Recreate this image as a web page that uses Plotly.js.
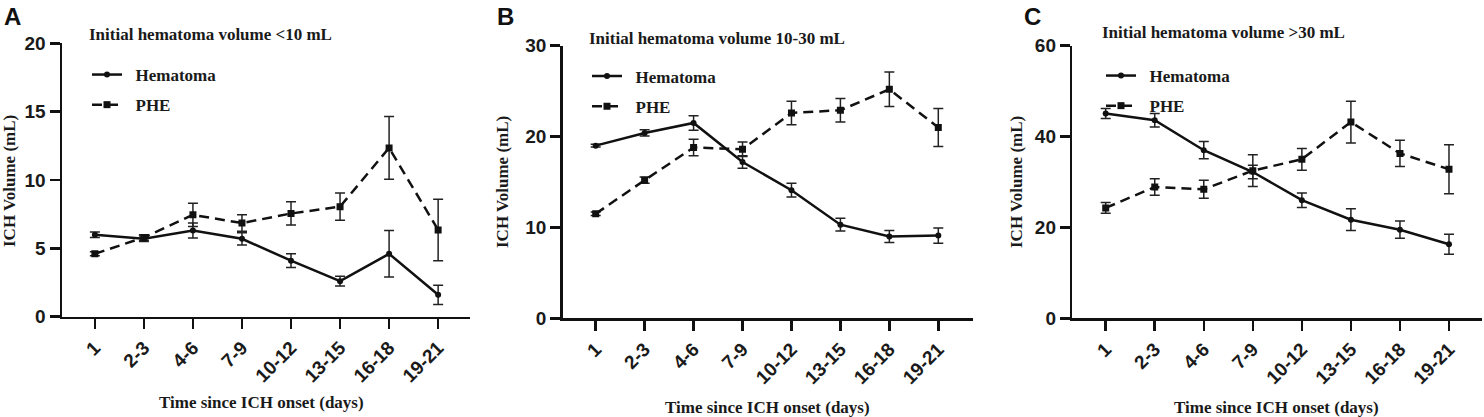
<!DOCTYPE html>
<html>
<head>
<meta charset="utf-8">
<script src="https://cdn.plot.ly/plotly-3.0.1.min.js"></script>
<style>html,body{margin:0;padding:0;background:#fff;}#chart{width:1484px;height:417px;}</style>
</head>
<body>
<div id="chart"></div>
<script>
// ---- data ----
const timeLabels = ['1','2-3','4-6','7-9','10-12','13-15','16-18','19-21'];

// Panel A: initial hematoma volume <10 mL
const hemA    = [6.0, 5.7, 6.3, 5.7, 4.1, 2.6, 4.6, 1.6];
const hemAerr = [0.2, 0.2, 0.55, 0.45, 0.5, 0.35, 1.7, 0.7];
const pheA    = [4.6, 5.8, 7.45, 6.85, 7.55, 8.05, 12.35, 6.35];
const pheAerr = [0.15, 0.2, 0.85, 0.6, 0.85, 1.0, 2.3, 2.25];

// Panel B: initial hematoma volume 10-30 mL
const hemB    = [19.0, 20.4, 21.5, 17.2, 14.1, 10.3, 9.0, 9.1];
const hemBerr = [0.15, 0.35, 0.8, 0.7, 0.75, 0.7, 0.65, 0.85];
const pheB    = [11.5, 15.2, 18.8, 18.6, 22.6, 22.9, 25.2, 21.0];
const pheBerr = [0.2, 0.35, 0.9, 0.8, 1.3, 1.3, 1.9, 2.1];

// Panel C: initial hematoma volume >30 mL
const hemC    = [45.1, 43.6, 37.0, 32.2, 26.0, 21.7, 19.5, 16.3];
const hemCerr = [1.1, 1.5, 1.9, 1.5, 1.6, 2.4, 1.9, 2.2];
const pheC    = [24.3, 28.9, 28.4, 32.5, 35.0, 43.2, 36.3, 32.8];
const pheCerr = [1.2, 1.8, 2.0, 3.5, 2.4, 4.6, 2.9, 5.4];

const panelLetters = ['A','B','C'];
const subtitles = ['Initial hematoma volume &lt;10 mL','Initial hematoma volume 10-30 mL','Initial hematoma volume &gt;30 mL'];
const seriesNames = ['Hematoma','PHE'];
const yRanges = [[0,20],[0,30],[0,60]];
const yDticks = [5,10,20];

// ---- styling ----
const W = 1484, H = 417;
const serif = {family:'Liberation Serif, Times New Roman, serif', size:17, color:'#1a1a1a', weight:'bold'};
const sans = {family:'Liberation Sans, Arial, sans-serif', size:19, color:'#1a1a1a', weight:'bold'};
const px2x = p => p / W;
const px2y = p => 1 - p / H;

const panels = [
  {hem:hemA, hemErr:hemAerr, phe:pheA, pheErr:pheAerr, x0:62, x1:470, yTop:43.3, yBot:316.7, xr:[-0.67,7.65],
   letter:[2,16.5], sub:[87,34.7], legend:[87,57], ytitle:[9,181], xtitle:[261,402]},
  {hem:hemB, hemErr:hemBerr, phe:pheB, pheErr:pheBerr, x0:562.7, x1:973, yTop:45.7, yBot:318.3, xr:[-0.674,7.709],
   letter:[495,16.5], sub:[586.7,38.3], legend:[587,58.5], ytitle:[503,182], xtitle:[767,407]},
  {hem:hemC, hemErr:hemCerr, phe:pheC, pheErr:pheCerr, x0:1072.3, x1:1482, yTop:45.7, yBot:318.3, xr:[-0.681,7.673],
   letter:[1022,16.5], sub:[1100,32.7], legend:[1101,58], ytitle:[1017,182], xtitle:[1276.5,407]}
];

const traces = [];
const layout = {
  width: W, height: H,
  margin: {l:0, r:0, t:0, b:0},
  paper_bgcolor: '#fff', plot_bgcolor: '#fff',
  showlegend: true,
  annotations: []
};

panels.forEach((p, i) => {
  const s = i === 0 ? '' : String(i + 1);
  const lg = 'legend' + s;
  const xa = 'x' + s, ya = 'y' + s;
  traces.push({
    x: timeLabels, y: p.hem, type: 'scatter', mode: 'lines+markers', name: seriesNames[0],
    xaxis: xa, yaxis: ya, legend: lg, legendgroup: 'h' + i,
    line: {color: '#111', width: 2.5},
    marker: {symbol: 'circle', size: 6, color: '#111'},
    error_y: {type: 'data', array: p.hemErr, visible: true, color: '#222', thickness: 1.5, width: 5}
  });
  traces.push({
    x: timeLabels, y: p.phe, type: 'scatter', mode: 'lines+markers', name: seriesNames[1],
    xaxis: xa, yaxis: ya, legend: lg, legendgroup: 'p' + i,
    line: {color: '#111', width: 2.5, dash: '10px,6px'},
    marker: {symbol: 'square', size: 7, color: '#111'},
    error_y: {type: 'data', array: p.pheErr, visible: true, color: '#222', thickness: 1.5, width: 5}
  });

  layout['xaxis' + s] = {
    domain: [px2x(p.x0), px2x(p.x1)], anchor: ya, type: 'category',
    range: p.xr, showgrid: false, zeroline: false,
    showline: true, linecolor: '#111', linewidth: 2.5,
    ticks: 'outside', ticklen: 10, tickwidth: 2.5, tickcolor: '#111',
    tickangle: -45, tickfont: sans, fixedrange: true
  };
  layout['yaxis' + s] = {
    domain: [px2y(p.yBot), px2y(p.yTop)], anchor: xa,
    range: yRanges[i], dtick: yDticks[i], tick0: 0,
    showgrid: false, zeroline: false,
    showline: true, linecolor: '#111', linewidth: 2.5,
    ticks: 'outside', ticklen: 10, tickwidth: 2.5, tickcolor: '#111',
    tickfont: sans, fixedrange: true
  };
  layout[lg] = {
    x: px2x(p.legend[0]), y: px2y(p.legend[1]), xanchor: 'left', yanchor: 'top',
    bgcolor: 'rgba(0,0,0,0)', borderwidth: 0, font: serif,
    traceorder: 'grouped', tracegroupgap: 5, itemclick: false, itemdoubleclick: false
  };

  layout.annotations.push(
    {text: panelLetters[i], xref: 'paper', yref: 'paper', x: px2x(p.letter[0]), y: px2y(p.letter[1]),
     xanchor: 'left', yanchor: 'middle', showarrow: false,
     font: {family: 'Liberation Sans, Arial, sans-serif', size: 24, color: '#111', weight: 'bold'}},
    {text: subtitles[i], xref: 'paper', yref: 'paper', x: px2x(p.sub[0]), y: px2y(p.sub[1]),
     xanchor: 'left', yanchor: 'middle', showarrow: false, font: serif},
    {text: 'ICH Volume (mL)', xref: 'paper', yref: 'paper', x: px2x(p.ytitle[0]), y: px2y(p.ytitle[1]),
     xanchor: 'center', yanchor: 'middle', textangle: -90, showarrow: false, font: serif},
    {text: 'Time since ICH onset (days)', xref: 'paper', yref: 'paper', x: px2x(p.xtitle[0]), y: px2y(p.xtitle[1]),
     xanchor: 'center', yanchor: 'middle', showarrow: false, font: serif}
  );
});

// add spacing before legend labels
traces.forEach(t => { t.name = '&nbsp;&nbsp;' + t.name; });

Plotly.newPlot('chart', traces, layout, {staticPlot: true, displayModeBar: false});
</script>
</body>
</html>
